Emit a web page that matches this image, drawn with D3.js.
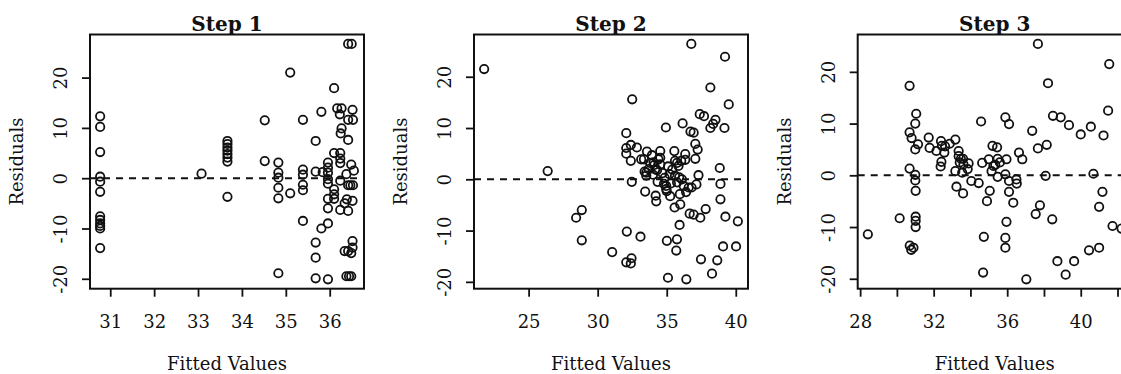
<!DOCTYPE html>
<html>
<head>
<meta charset="utf-8">
<script src="https://cdn.jsdelivr.net/npm/d3@7/dist/d3.min.js"></script>
<style>
  body { margin: 0; background: #fff; }
  svg text { font-family: "DejaVu Serif", serif; fill: #111; }
</style>
</head>
<body>
<svg id="chart" width="1121" height="374"></svg>
<script>
// residuals vs fitted values, three regression steps

var step1Fitted = [
  30.77, 30.77, 30.77, 30.77, 30.77, 30.77, 30.77, 30.77, 30.77, 30.77, 30.77, 30.77,
  33.08,
  33.67, 33.67, 33.67, 33.67, 33.67, 33.67, 33.67, 33.67,
  34.52, 34.52,
  34.83, 34.83, 34.83, 34.83, 34.83, 34.83,
  35.10, 35.10,
  35.39, 35.39, 35.39, 35.39, 35.39, 35.39,
  35.68, 35.68, 35.68, 35.68, 35.68,
  35.81, 35.81, 35.84,
  35.96, 35.96, 35.96, 35.96, 35.96, 35.96, 35.96, 35.96, 35.96,
  36.10, 36.10, 36.10, 36.10, 36.10,
  36.17, 36.27, 36.27, 36.23, 36.25,
  36.24, 36.24, 36.24, 36.24, 36.24,
  36.34, 36.34, 36.38, 36.38,
  36.42, 36.42, 36.42, 36.42, 36.42, 36.42,
  36.39, 36.44, 36.47, 36.50,
  36.49, 36.49, 36.49,
  36.52, 36.52, 36.52, 36.52,
  36.53, 36.53, 36.55
];
var step1Residuals = [
  12.3, 10.2, 5.2, 0.3, -0.7, -2.7, -7.6, -8.3, -9.0, -9.5, -10.0, -13.9,
  0.9,
  7.4, 6.8, 6.1, 5.5, 4.8, 4.1, 3.3, -3.7,
  11.5, 3.4,
  3.1, 1.1, 0.1, -1.9, -4.0, -18.9,
  21.0, -3.0,
  11.6, 1.7, 0.7, -1.3, -2.4, -8.5,
  7.4, 1.3, -12.8, -15.8, -19.9,
  13.2, -10.0, 1.2,
  3.1, 2.1, 1.1, -0.2, -1.1, -4.1, -6.0, -9.0, -20.1,
  17.9, 5.0, -2.2, -3.2, -4.1,
  13.9, 13.9, 9.9, 12.7, 8.9,
  5.0, 3.9, 3.0, -0.5, -6.3,
  -5.0, -14.5, 0.8, -19.5,
  26.7, 11.6, 7.6, -6.5, -1.4, -14.5,
  -4.2, -19.5, -1.4, 26.7,
  -19.5, 2.7, -14.9,
  13.6, -4.5, -12.5, -13.8,
  11.6, -1.4, 1.5
];

var step2Fitted = [
  21.78, 26.38, 28.44, 28.85, 28.85, 31.05,
  32.07, 32.07, 32.07, 32.11, 32.07, 32.40, 32.45, 32.50, 32.40, 32.40, 32.47,
  32.84, 33.10, 33.15, 33.35, 33.44, 33.57, 33.52, 33.52,
  33.93, 34.05, 34.17, 34.20, 34.24, 34.34, 34.53, 34.53, 34.53,
  34.94, 34.96, 34.96, 35.00, 35.01, 35.09, 35.25, 35.55, 35.57, 35.60,
  35.75, 35.85, 36.05, 35.74, 35.69, 35.93, 35.95, 35.98,
  36.15, 36.10, 36.23, 36.34, 36.34, 36.42, 36.59, 36.66, 36.72, 36.78,
  36.95, 36.95, 37.07, 37.07, 37.15, 37.24, 37.30, 37.43, 37.39, 37.48,
  37.70, 37.82, 38.16, 38.16, 38.36, 38.53, 38.28, 38.66,
  38.84, 38.89, 38.89, 39.08, 39.18, 39.22, 39.25, 39.49, 40.02, 40.15,
  33.40, 33.70, 34.00, 34.30, 34.70, 34.85, 35.20, 35.40, 35.60, 35.30,
  35.75, 35.90, 36.40, 36.80, 34.10, 34.40, 35.10, 33.80, 34.80
];
var step2Residuals = [
  21.5, 1.6, -7.5, -6.0, -11.9, -14.2,
  9.0, 6.1, 5.0, -10.2, -16.2, -16.4, -15.4, 15.6, 3.6, 6.7, -0.5,
  6.2, -11.2, 3.9, 3.9, -2.4, 5.4, 1.3, 0.7,
  4.7, 3.3, 1.95, -3.2, -4.3, -0.5, 5.5, 4.2, 2.9,
  10.1, -1.9, -1.3, -2.3, -12.0, -19.2, -3.3, 5.5, -5.5, 3.6,
  3.2, 2.6, 3.6, -11.7, -13.9, -8.9, -2.9, -4.9,
  10.9, 0.0, -1.3, 4.9, 3.8, -19.5, -1.6, -6.7, 9.3, 26.4,
  9.1, -6.9, 6.9, 4.0, -1.0, 5.8, 0.8, -7.5, 12.7, -15.6,
  12.3, -5.8, 17.9, 10.0, 10.8, 11.6, -18.4, -15.8,
  2.2, -0.9, -3.9, -13.1, 10.0, 23.9, -7.3, 14.6, -13.1, -8.2,
  1.5, 2.0, 0.9, 1.8, 1.2, 0.3, 1.0, 1.9, 0.7, -0.8,
  -0.6, 0.4, -2.5, -1.6, 2.8, 3.9, 2.5, 3.2, -0.9
];

var step3Fitted = [
  28.42, 30.15, 30.69, 30.69, 30.80, 30.69, 30.70, 30.78, 30.90,
  31.05, 31.00, 31.15, 31.00, 31.00, 31.00, 31.02, 31.02, 31.02, 31.02,
  31.73, 31.78, 32.15, 32.40, 32.45, 32.62, 32.58, 32.42, 32.38, 32.87,
  33.18, 33.18, 33.24, 33.36, 33.36, 33.48, 33.42, 33.60, 33.62, 33.55, 33.60,
  33.90, 33.85, 34.05, 34.45, 34.58, 34.64, 34.73, 34.69, 34.90,
  35.00, 35.05, 35.20, 35.25, 35.15, 35.45, 35.48, 35.48, 35.60, 35.35,
  35.90, 36.10, 35.96, 35.90, 36.10, 36.10, 35.96, 35.90, 35.90,
  36.33, 36.50, 36.52, 36.64, 36.82, 37.04, 37.36, 37.67, 37.67, 37.55, 37.78,
  38.09, 38.15, 38.22, 38.45, 38.49, 38.73, 38.91, 39.18, 39.36, 39.64,
  40.00, 40.45, 40.55, 40.69, 41.00, 41.00, 41.18, 41.24, 41.55, 41.49, 41.73, 42.22
];
var step3Residuals = [
  -11.4, -8.3, 17.3, 8.3, 7.2, 1.3, -13.6, -14.4, -14.0,
  11.9, 10.0, 6.0, 5.0, 0.1, -1.0, -3.0, -8.0, -8.8, -10.0,
  7.3, 5.3, 4.7, 6.6, 5.7, 5.6, 4.4, 2.6, 1.7, 6.1,
  6.9, 0.8, -2.2, 4.7, 3.7, 3.2, 2.5, 3.2, 2.1, 0.5, -3.5,
  2.3, 1.2, -1.1, -1.5, 10.4, 2.4, -11.9, -18.8, -5.0,
  3.1, -3.0, 5.7, 1.8, 0.8, 5.4, 3.2, -0.3, 2.5, 2.0,
  11.2, 9.9, 3.1, 0.2, -1.1, -3.2, -9.0, -12.1, -14.0,
  -5.3, -0.8, -1.6, 4.4, 3.1, -20.1, 8.6, 25.4, 5.2, -7.5, -5.8,
  -0.1, 5.9, 17.8, -8.5, 11.5, -16.6, 11.2, -19.2, 9.7, -16.6,
  7.9, -14.5, 9.4, 0.3, -14.0, -6.1, -3.2, 7.7, 21.5, 12.5, -9.8, -10.3
];

var titles = ["Step 1", "Step 2", "Step 3"];
var yTicks = [-20, -10, 0, 10, 20];
var step1XTicks = [31, 32, 33, 34, 35, 36];
var step2XTicks = [25, 30, 35, 40];
var step3XTicks = [28, 30, 32, 34, 36, 38, 40, 42];
var step3XLabels = [28, 32, 36, 40];

var panels = [
  { title: titles[0], fitted: step1Fitted, resid: step1Residuals, ticks: step1XTicks, labels: step1XTicks, left: 90 },
  { title: titles[1], fitted: step2Fitted, resid: step2Residuals, ticks: step2XTicks, labels: step2XTicks, left: 474 },
  { title: titles[2], fitted: step3Fitted, resid: step3Residuals, ticks: step3XTicks, labels: step3XLabels, left: 857.7 }
];

var boxW = 274, boxTop = 34.5, boxBottom = 288.7;
var svg = d3.select("#chart");
svg.append("rect").attr("width", 1121).attr("height", 374).attr("fill", "#fff");

// R style: data range widened 4% on each side
function padRange(v) {
  var e = d3.extent(v);
  var p = (e[1] - e[0]) * 0.04;
  return [e[0] - p, e[1] + p];
}

panels.forEach(function (p) {
  var right = p.left + boxW;
  var x = d3.scaleLinear().domain(padRange(p.fitted)).range([p.left, right]);
  var y = d3.scaleLinear().domain(padRange(p.resid)).range([boxBottom, boxTop]);
  var g = svg.append("g");

  // x axis
  var xa = g.append("g")
    .attr("transform", "translate(0," + boxBottom + ")")
    .call(d3.axisBottom(x).tickValues(p.ticks).tickSize(8).tickPadding(19)
      .tickFormat(function (d) { return p.labels.indexOf(d) >= 0 ? String(d) : ""; }));
  xa.select(".domain").remove();
  xa.selectAll("line").attr("stroke", "#111").attr("stroke-width", 1.8);
  xa.selectAll("text").style("font-size", "18px").style("font-family", "DejaVu Serif");

  // y axis, labels parallel to the axis, plain hyphen minus like R
  var ya = g.append("g")
    .attr("transform", "translate(" + p.left + ",0)")
    .call(d3.axisLeft(y).tickValues(yTicks).tickSize(8)
      .tickFormat(function (d) { return String(d); }));
  ya.select(".domain").remove();
  ya.selectAll("line").attr("stroke", "#111").attr("stroke-width", 1.8);
  ya.selectAll("text")
    .attr("x", 0).attr("dy", 0)
    .attr("text-anchor", "middle")
    .attr("transform", "translate(-23,0) rotate(-90)")
    .style("font-size", "18px").style("font-family", "DejaVu Serif");

  // zero reference
  g.append("line")
    .attr("x1", p.left).attr("x2", right)
    .attr("y1", y(0)).attr("y2", y(0))
    .attr("stroke", "#111").attr("stroke-width", 2)
    .attr("stroke-dasharray", "7,6");

  g.selectAll("circle.pt")
    .data(p.fitted)
    .enter().append("circle")
    .attr("class", "pt")
    .attr("cx", function (d) { return x(d); })
    .attr("cy", function (d, i) { return y(p.resid[i]); })
    .attr("r", 4.2)
    .attr("fill", "none")
    .attr("stroke", "#111")
    .attr("stroke-width", 1.8);

  g.append("rect")
    .attr("x", p.left).attr("y", boxTop)
    .attr("width", boxW).attr("height", boxBottom - boxTop)
    .attr("fill", "none").attr("stroke", "#111").attr("stroke-width", 2);

  var cx = p.left + boxW / 2;
  g.append("text")
    .attr("x", cx).attr("y", 31)
    .attr("text-anchor", "middle")
    .style("font-size", "20px").style("font-weight", "bold")
    .text(p.title);

  g.append("text")
    .attr("x", cx).attr("y", 370)
    .attr("text-anchor", "middle")
    .style("font-size", "18px")
    .text("Fitted Values");

  g.append("text")
    .attr("transform", "translate(" + (p.left - 67) + "," + ((boxTop + boxBottom) / 2) + ") rotate(-90)")
    .attr("text-anchor", "middle")
    .style("font-size", "18px")
    .text("Residuals");
});
</script>
</body>
</html>
